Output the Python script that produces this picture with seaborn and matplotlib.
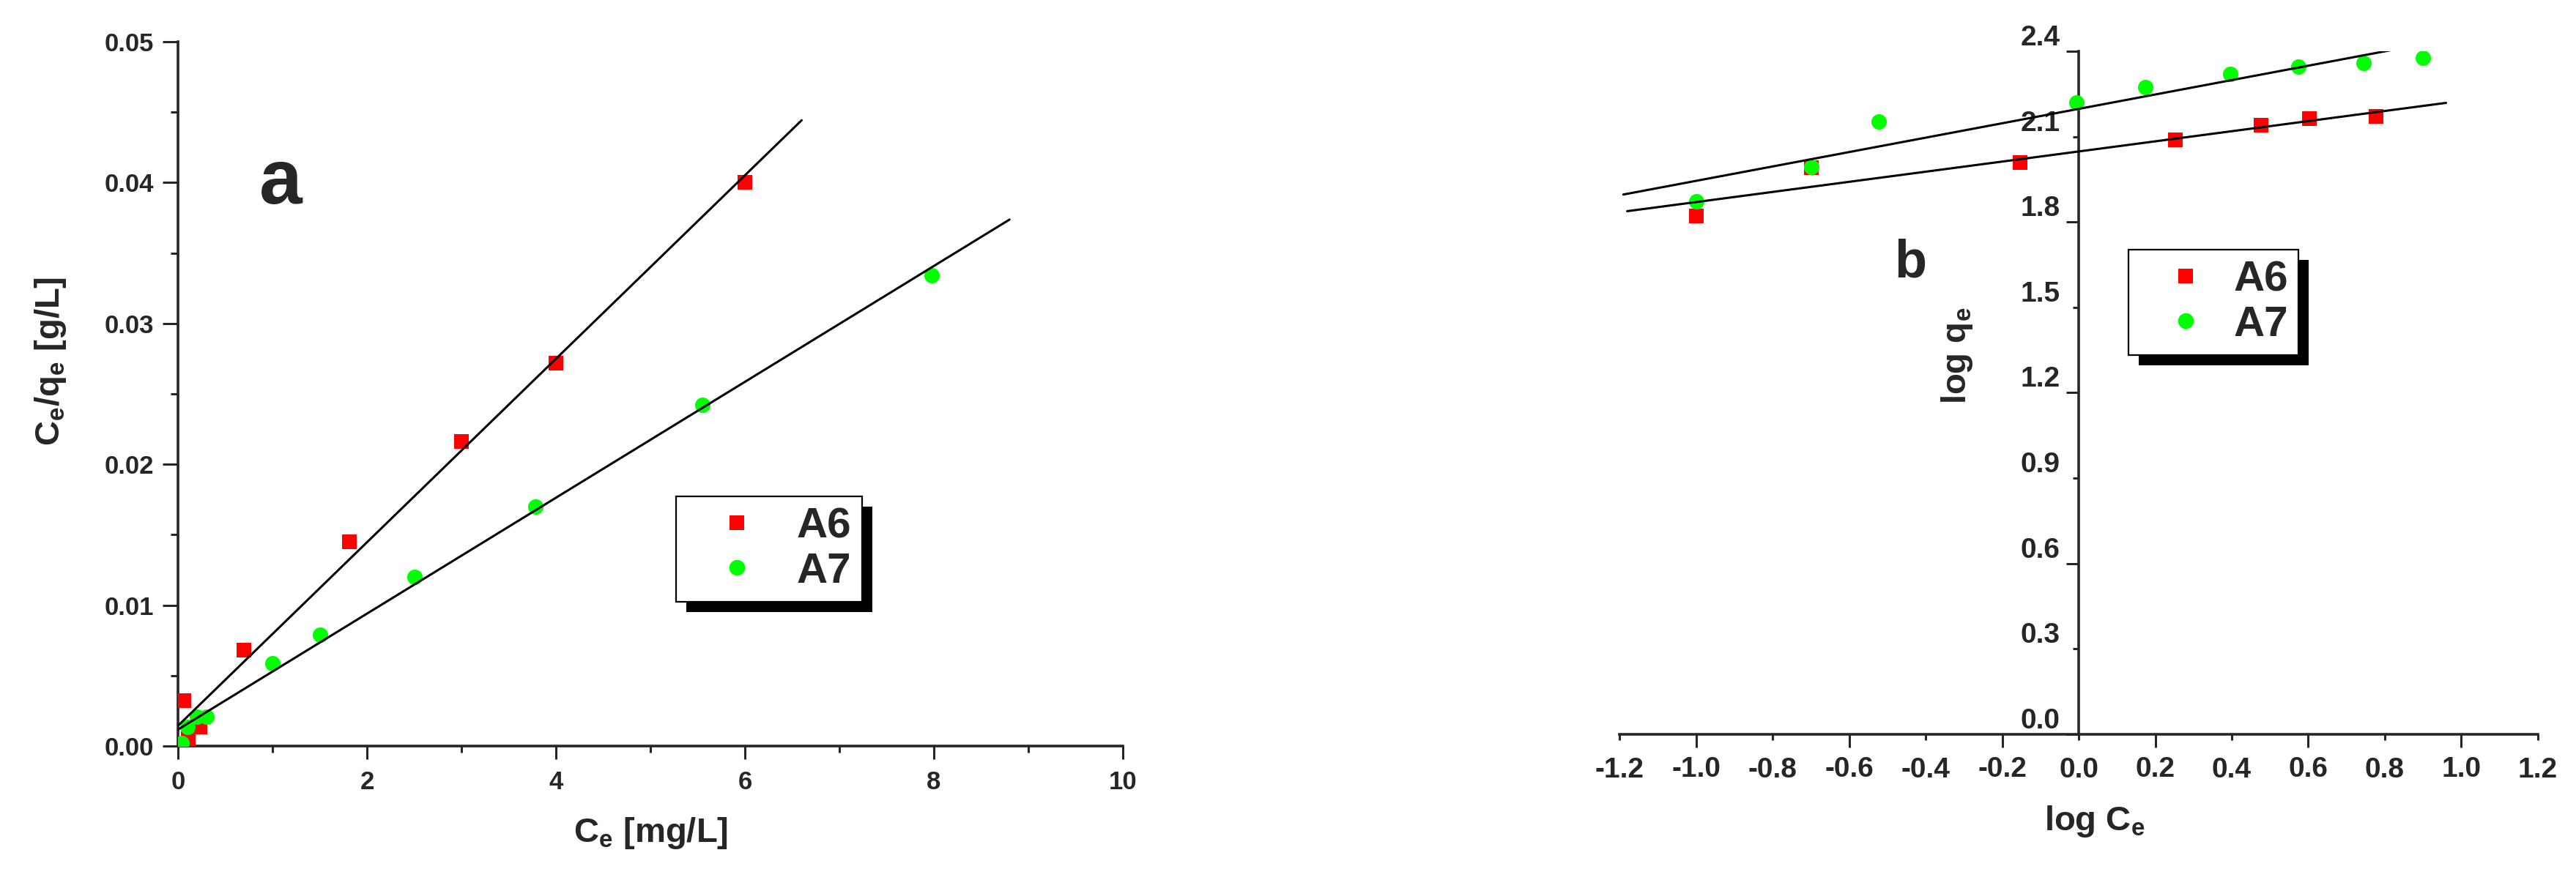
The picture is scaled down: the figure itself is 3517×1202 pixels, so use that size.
import numpy as np
import pandas as pd
import matplotlib
matplotlib.use("Agg")
import matplotlib.pyplot as plt
import matplotlib.transforms as mtransforms
from matplotlib.lines import Line2D
from matplotlib.patches import Rectangle
from matplotlib.ticker import FixedLocator, FormatStrFormatter
import seaborn as sns

# panel a: Langmuir plot, Ce/qe vs Ce
a6_ce = [0.06, 0.11, 0.23, 0.70, 1.81, 3.0, 4.0, 6.0]
a6_ratio = [0.0032, 0.0005, 0.00135, 0.0068, 0.0145, 0.0216, 0.0272, 0.0400]
a7_ce = [0.04, 0.10, 0.20, 0.30, 1.0, 1.5, 2.5, 3.78, 5.55, 7.98]
a7_ratio = [0.0002, 0.00135, 0.0021, 0.0021, 0.0059, 0.0079, 0.0120, 0.0170, 0.0242, 0.0334]
a_fit_range = {"A6": [0.0, 6.6], "A7": [0.0, 8.8]}

# panel b: Freundlich plot, log qe vs log Ce
b6_logce = [-1.0, -0.699, -0.154, 0.253, 0.477, 0.602, 0.777]
b6_logqe = [1.820, 1.991, 2.008, 2.088, 2.139, 2.162, 2.172]
b7_logce = [-1.0, -0.699, -0.522, -0.005, 0.175, 0.397, 0.575, 0.744, 0.899]
b7_logqe = [1.873, 1.994, 2.152, 2.221, 2.275, 2.321, 2.346, 2.359, 2.378]
b_fit_range = {"A6": [-1.18, 0.96], "A7": [-1.19, 0.96]}

samples = ["A6", "A7"]
colors = {"A6": "#ff0000", "A7": "#00ff00"}
markers = {"A6": "s", "A7": "o"}

sns.set_style("ticks")
plt.rcParams["font.family"] = ["Liberation Sans", "DejaVu Sans"]
plt.rcParams["font.weight"] = "bold"
plt.rcParams["axes.labelweight"] = "bold"
plt.rcParams["mathtext.default"] = "regular"
plt.rcParams["axes.unicode_minus"] = False

df_a = pd.DataFrame({
    "x": a6_ce + a7_ce,
    "y": a6_ratio + a7_ratio,
    "sample": ["A6"] * len(a6_ce) + ["A7"] * len(a7_ce),
})
df_b = pd.DataFrame({
    "x": b6_logce + b7_logce,
    "y": b6_logqe + b7_logqe,
    "sample": ["A6"] * len(b6_logce) + ["A7"] * len(b7_logce),
})

fig = plt.figure(figsize=(35.17, 12.02), dpi=100)
ax1 = fig.add_axes([0.0691, 0.1522, 0.3668, 0.8004])
ax2 = fig.add_axes([0.6287, 0.1656, 0.3565, 0.7762])

LW = 2.6


def draw_panel(ax, df, fit_range):
    for s in samples:
        sub = df[df["sample"] == s]
        sns.scatterplot(data=sub, x="x", y="y", ax=ax, color=colors[s],
                        marker=markers[s], s=210 if s == "A6" else 230,
                        linewidth=0, legend=False, zorder=3)
        k, b = np.polyfit(sub["x"], sub["y"], 1)
        xs = np.array(fit_range[s])
        ax.plot(xs, k * xs + b, color="black", lw=2.2, zorder=4)


def add_legend(ax, anchor, hl, htp):
    handles = [Line2D([], [], ls="none", marker=markers[s], color=colors[s],
                      markersize=14.4 if s == "A6" else 15.5, markeredgewidth=0)
               for s in samples]
    leg = ax.legend(handles, samples, loc="upper left", bbox_to_anchor=anchor,
                    borderaxespad=0, fontsize=42, frameon=True, fancybox=False,
                    framealpha=1, edgecolor="black", borderpad=0.25,
                    labelspacing=0.12, handlelength=hl, handletextpad=htp)
    leg.get_frame().set_linewidth(1.6)
    return leg


# ---- panel a
draw_panel(ax1, df_a, a_fit_range)
ax1.set_xlim(0, 10)
ax1.set_ylim(0, 0.05)
ax1.xaxis.set_major_locator(FixedLocator([0, 2, 4, 6, 8, 10]))
ax1.xaxis.set_minor_locator(FixedLocator([1, 3, 5, 7, 9]))
ax1.yaxis.set_major_locator(FixedLocator([0, 0.01, 0.02, 0.03, 0.04, 0.05]))
ax1.yaxis.set_minor_locator(FixedLocator([0.005, 0.015, 0.025, 0.035, 0.045]))
ax1.yaxis.set_major_formatter(FormatStrFormatter("%.2f"))
sns.despine(ax=ax1)
for sp in ["left", "bottom"]:
    ax1.spines[sp].set_linewidth(LW)
ax1.tick_params(axis="x", which="major", length=13, width=2.2, labelsize=25, pad=11)
ax1.tick_params(axis="x", which="minor", length=6.5, width=2.2)
ax1.tick_params(axis="y", which="major", length=15, width=2.2, labelsize=25, pad=9)
ax1.tick_params(axis="y", which="minor", length=7, width=2.2)
for lab in ax1.get_xticklabels() + ax1.get_yticklabels():
    lab.set_fontweight("bold")
ax1.set_xlabel("C$_e$ [mg/L]", fontsize=34, fontweight="bold", va="center")
ax1.set_ylabel("C$_e$/q$_e$ [g/L]", fontsize=34, fontweight="bold", va="center")
ax1.xaxis.set_label_coords(0.5, -0.124)
ax1.yaxis.set_label_coords(-0.135, 0.546)
ax1.text(1.085, 0.0385, "a", fontsize=76, fontweight="bold", ha="center", va="baseline")
leg1 = add_legend(ax1, (0.527, 0.3545), 2.36, 0.21)

# ---- panel b
draw_panel(ax2, df_b, b_fit_range)
ax2.set_xlim(-1.2, 1.2)
ax2.set_ylim(0, 2.4)
ax2.spines["left"].set_position(("data", 0))
sns.despine(ax=ax2)
for sp in ["left", "bottom"]:
    ax2.spines[sp].set_linewidth(LW)
ax2.xaxis.set_major_locator(FixedLocator([-1.0, -0.6, -0.2, 0.2, 0.6, 1.0]))
ax2.xaxis.set_minor_locator(FixedLocator([-1.2, -0.8, -0.4, 0.0, 0.4, 0.8, 1.2]))
ax2.yaxis.set_major_locator(FixedLocator([0.0, 0.6, 1.2, 1.8, 2.4]))
ax2.yaxis.set_minor_locator(FixedLocator([0.3, 0.9, 1.5, 2.1]))
for axis in [ax2.xaxis, ax2.yaxis]:
    axis.set_major_formatter(FormatStrFormatter("%.1f"))
    axis.set_minor_formatter(FormatStrFormatter("%.1f"))
ax2.tick_params(axis="x", which="major", length=13, width=2.2, labelsize=28, pad=8.5)
ax2.tick_params(axis="x", which="minor", length=6, width=2.2, labelsize=28, pad=16)
ax2.tick_params(axis="y", which="major", length=12.5, width=2.2, labelsize=28, pad=6)
ax2.tick_params(axis="y", which="minor", length=6, width=2.2, labelsize=28, pad=12.5)
ax2.set_xlabel("log C$_e$", fontsize=34, fontweight="bold", va="center")
ax2.set_ylabel("log q$_e$", fontsize=34, fontweight="bold", va="center")
ax2.xaxis.set_label_coords(0.5175, -0.1275)
ax2.yaxis.set_label_coords(0.3676, 0.554)
ax2.text(-0.44, 1.607, "b", fontsize=52, fontweight="bold", ha="center", va="baseline")
leg2 = add_legend(ax2, (0.554, 0.7095), 2.19, 0.02)

# y tick labels of panel b sit a little above their ticks
shift = mtransforms.ScaledTranslation(0, 0.22, fig.dpi_scale_trans)
for t in ax2.yaxis.get_major_ticks() + ax2.yaxis.get_minor_ticks():
    t.label1.set_transform(t.label1.get_transform() + shift)
for lab in (ax2.get_xticklabels(minor=False) + ax2.get_xticklabels(minor=True)
            + ax2.get_yticklabels(minor=False) + ax2.get_yticklabels(minor=True)):
    lab.set_fontweight("bold")

# solid black drop shadow behind each legend box
fig.canvas.draw()
renderer = fig.canvas.get_renderer()
for ax, leg in [(ax1, leg1), (ax2, leg2)]:
    bb = leg.get_window_extent(renderer)
    inv = ax.transAxes.inverted()
    (x0, y0), (x1, y1) = inv.transform([[bb.x0 + 14, bb.y0 - 14], [bb.x1 + 14, bb.y1 - 14]])
    ax.add_patch(Rectangle((x0, y0), x1 - x0, y1 - y0, transform=ax.transAxes,
                           facecolor="black", edgecolor="none", clip_on=False, zorder=4.9))

fig.savefig("out.png", dpi=100, facecolor="white")
